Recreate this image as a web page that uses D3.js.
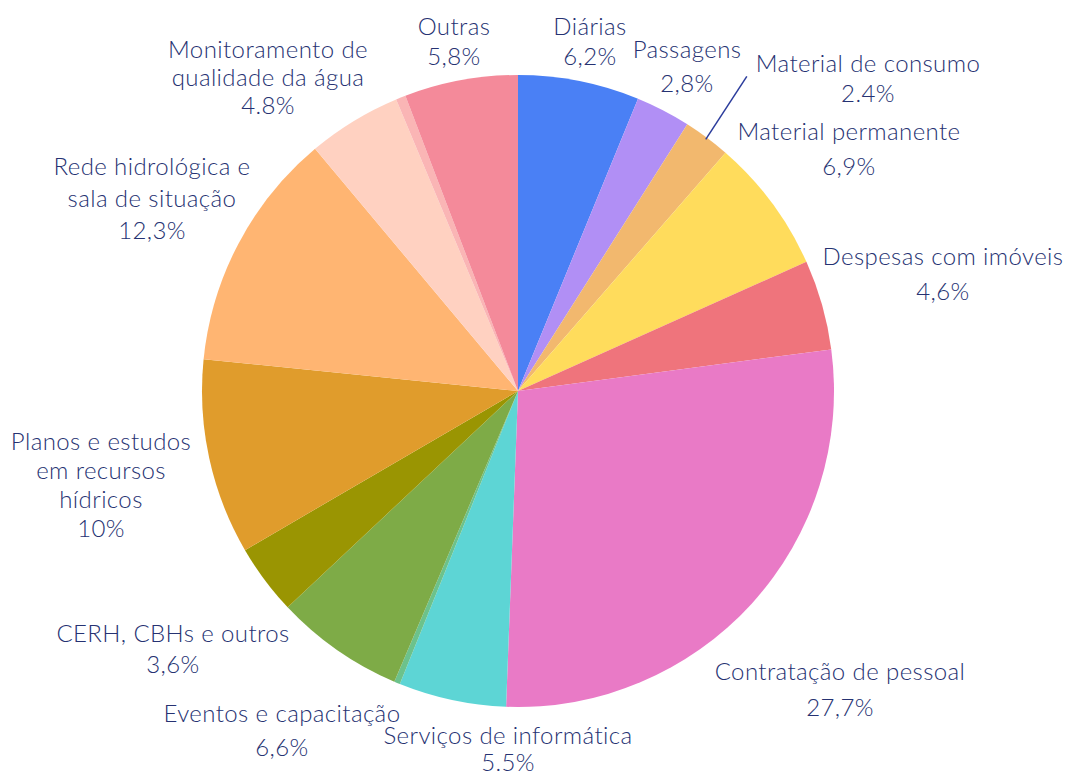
<!DOCTYPE html>
<html>
<head>
<meta charset="utf-8">
<script src="https://cdn.jsdelivr.net/npm/d3@7"></script>
<style>
  body { margin: 0; background: #fff; }
  text { font-family: "Lato", "Noto Sans", sans-serif; fill: #263272; font-weight: 300; }
</style>
</head>
<body>
<div id="chart"></div>
<script>
// slices, clockwise from 12 o'clock
const categories = [
    'Diárias', 'Passagens', 'Material de consumo', 'Material permanente',
    'Despesas com imóveis', 'Contratação de pessoal', 'Serviços de informática',
    'outro1', 'Eventos e capacitação', 'CERH, CBHs e outros',
    'Planos e estudos em recursos hídricos', 'Rede hidrológica e sala de situação',
    'Monitoramento de qualidade da água', 'outro2', 'Outras'
];
const values = [6.2, 2.8, 2.4, 6.9, 4.6, 27.7, 5.5, 0.3, 6.6, 3.6, 10, 12.3, 4.8, 0.5, 5.8];
const valueLabels = ['6,2%', '2,8%', '2.4%', '6,9%', '4,6%', '27,7%', '5.5%', '', '6,6%', '3,6%', '10%', '12,3%', '4.8%', '', '5,8%'];
const colors = ['#4a80f5', '#b18ff5', '#f2b86e', '#ffdc5c', '#ef747c', '#e97ac6', '#5dd5d5',
    '#6cc28c', '#7eab47', '#9a9502', '#e09c2c', '#ffb572', '#ffd1c1', '#fab5b5', '#f48a9a'];

// label layout: lines, offset of first line from pie centre, line gap
const labelLayout = {
    'Diárias': { lines: ['Diárias'], dx: 72, dy: -366, gap: 30 },
    'Passagens': { lines: ['Passagens'], dx: 169, dy: -343, gap: 34 },
    'Material de consumo': { lines: ['Material de consumo'], dx: 350, dy: -329, gap: 30 },
    'Material permanente': { lines: ['Material permanente'], dx: 331, dy: -261, gap: 35 },
    'Despesas com imóveis': { lines: ['Despesas com imóveis'], dx: 425, dy: -136, gap: 35 },
    'Contratação de pessoal': { lines: ['Contratação de pessoal'], dx: 322, dy: 279, gap: 36 },
    'Serviços de informática': { lines: ['Serviços de informática'], dx: -10, dy: 343, gap: 27 },
    'Eventos e capacitação': { lines: ['Eventos e capacitação'], dx: -236, dy: 321, gap: 34 },
    'CERH, CBHs e outros': { lines: ['CERH, CBHs e outros'], dx: -345, dy: 241, gap: 31 },
    'Planos e estudos em recursos hídricos': { lines: ['Planos e estudos', 'em recursos', 'hídricos'], dx: -417, dy: 49, gap: 29 },
    'Rede hidrológica e sala de situação': { lines: ['Rede hidrológica e', 'sala de situação'], dx: -366, dy: -226, gap: 32 },
    'Monitoramento de qualidade da água': { lines: ['Monitoramento de', 'qualidade da água'], dx: -250, dy: -343, gap: 28 },
    'Outras': { lines: ['Outras'], dx: -64, dy: -366, gap: 30 }
};

const width = 1073;
const height = 774;
const cx = 518, cy = 391, radius = 316;

const data = categories.map((c, i) => ({ name: c, value: values[i], label: valueLabels[i], color: colors[i] }));

const svg = d3.select('#chart')
    .append('svg')
    .attr('width', width)
    .attr('height', height);

const g = svg.append('g')
    .attr('transform', `translate(${cx},${cy})`);

const pie = d3.pie()
    .sort(null)
    .value(d => d.value);

const arc = d3.arc()
    .innerRadius(0)
    .outerRadius(radius);

const arcs = pie(data);

g.selectAll('path.slice')
    .data(arcs)
    .enter()
    .append('path')
    .attr('class', 'slice')
    .attr('d', arc)
    .attr('fill', d => d.data.color);

// leader line for Material de consumo
const consumo = arcs.find(d => d.data.name === 'Material de consumo');
const mid = (consumo.startAngle + consumo.endAngle) / 2;
const p1 = [Math.sin(mid) * (radius - 2), -Math.cos(mid) * (radius - 2)];
const p2 = [Math.sin(mid - 0.012) * (radius + 73), -Math.cos(mid - 0.012) * (radius + 73)];
g.append('line')
    .attr('x1', p1[0]).attr('y1', p1[1])
    .attr('x2', p2[0]).attr('y2', p2[1])
    .attr('stroke', '#2b3c9c')
    .attr('stroke-width', 1.5);

const labels = g.selectAll('g.label')
    .data(arcs.filter(d => labelLayout[d.data.name]))
    .enter()
    .append('g')
    .attr('class', 'label');

labels.each(function (d) {
    const lay = labelLayout[d.data.name];
    const lines = lay.lines.concat([d.data.label]);
    const t = d3.select(this).append('text')
        .attr('text-anchor', 'middle')
        .style('font-size', '24px')
        .style('letter-spacing', '0.4px');
    lines.forEach((l, i) => {
        t.append('tspan')
            .attr('x', lay.dx)
            .attr('y', lay.dy + i * lay.gap)
            .attr('dominant-baseline', 'central')
            .text(l);
    });
});
</script>
</body>
</html>
